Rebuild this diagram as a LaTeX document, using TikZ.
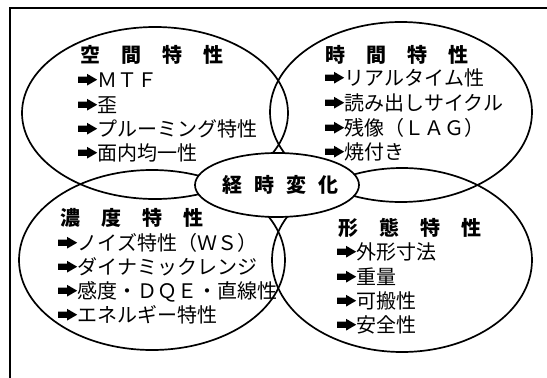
\documentclass[tikz,border=0pt]{standalone}
\usepackage{fontspec}
\usetikzlibrary{shapes.geometric}
\newfontfamily\jp{Noto Sans CJK JP}
\newcommand{\arr}{\tikz[baseline=0pt,x=1pt,y=1pt]\fill (0,4.2)--(9,4.2)--(9,1.5)--(19,7.3)--(9,13.1)--(9,10.4)--(0,10.4)--cycle;\hspace{0.5pt}}
\newcommand{\hg}{\hspace{21pt}}
\begin{document}
\begin{tikzpicture}[x=1pt,y=-1pt,
  oval/.style={draw,ellipse,line width=1.7pt,inner sep=0pt},
  item/.style={anchor=base west,inner sep=0pt,font=\jp\fontsize{20pt}{20pt}\selectfont},
  head/.style={anchor=base west,inner sep=0pt,font=\jp\bfseries\fontsize{20pt}{20pt}\selectfont},
  frameline/.style={line width=2pt}]
\useasboundingbox (0,0) rectangle (547,378);
% frame
\coordinate (f1) at (547,8);
\coordinate (f2) at (10,8);
\coordinate (f3) at (10,378);
\draw[frameline] (f1) -- (f2) -- (f3);
% ellipses
\node[oval,minimum width=266pt,minimum height=172pt] (tl) at (155,113) {};
\node[oval,minimum width=262pt,minimum height=180pt] (tr) at (401,112) {};
\node[oval,minimum width=266pt,minimum height=180pt] (bl) at (152,260) {};
\node[oval,minimum width=260pt,minimum height=184pt] (br) at (402,260) {};
\node[oval,fill=white,minimum width=164pt,minimum height=64pt] (ce) at (277,185) {};
\node[head,anchor=base] (cet) at (280,192) {経\hspace{12pt}時\hspace{12pt}変\hspace{12pt}化};
% top-left
\node[head] (h1) at (80,62) {空\hg 間\hg 特\hg 性};
\node[item] (a1) at (78,87) {\arr ＭＴＦ};
\node[item] (a2) at (78,112) {\arr 歪};
\node[item] (a3) at (78,136) {\arr プルーミング特性};
\node[item] (a4) at (78,160) {\arr 面内均一性};
% top-right
\node[head] (h2) at (325,62) {時\hg 間\hg 特\hg 性};
\node[item] (b1) at (325,85) {\arr リアルタイム性};
\node[item] (b2) at (325,110) {\arr 読み出しサイクル};
\node[item] (b3) at (325,135) {\arr 残像（ＬＡＧ）};
\node[item] (b4) at (325,159) {\arr 焼付き};
% bottom-left
\node[head] (h3) at (60,225) {濃\hg 度\hg 特\hg 性};
\node[item] (c1) at (58,250) {\arr ノイズ特性（ＷＳ）};
\node[item] (c2) at (58,274) {\arr ダイナミックレンジ};
\node[item] (c3) at (58,298) {\arr 感度・ＤＱＥ・直線性};
\node[item] (c4) at (58,322) {\arr エネルギー特性};
% bottom-right
\node[head] (h4) at (338,235) {形\hg 態\hg 特\hg 性};
\node[item] (d1) at (337,259) {\arr 外形寸法};
\node[item] (d2) at (337,284) {\arr 重量};
\node[item] (d3) at (337,308) {\arr 可搬性};
\node[item] (d4) at (337,332) {\arr 安全性};
\end{tikzpicture}
\end{document}
